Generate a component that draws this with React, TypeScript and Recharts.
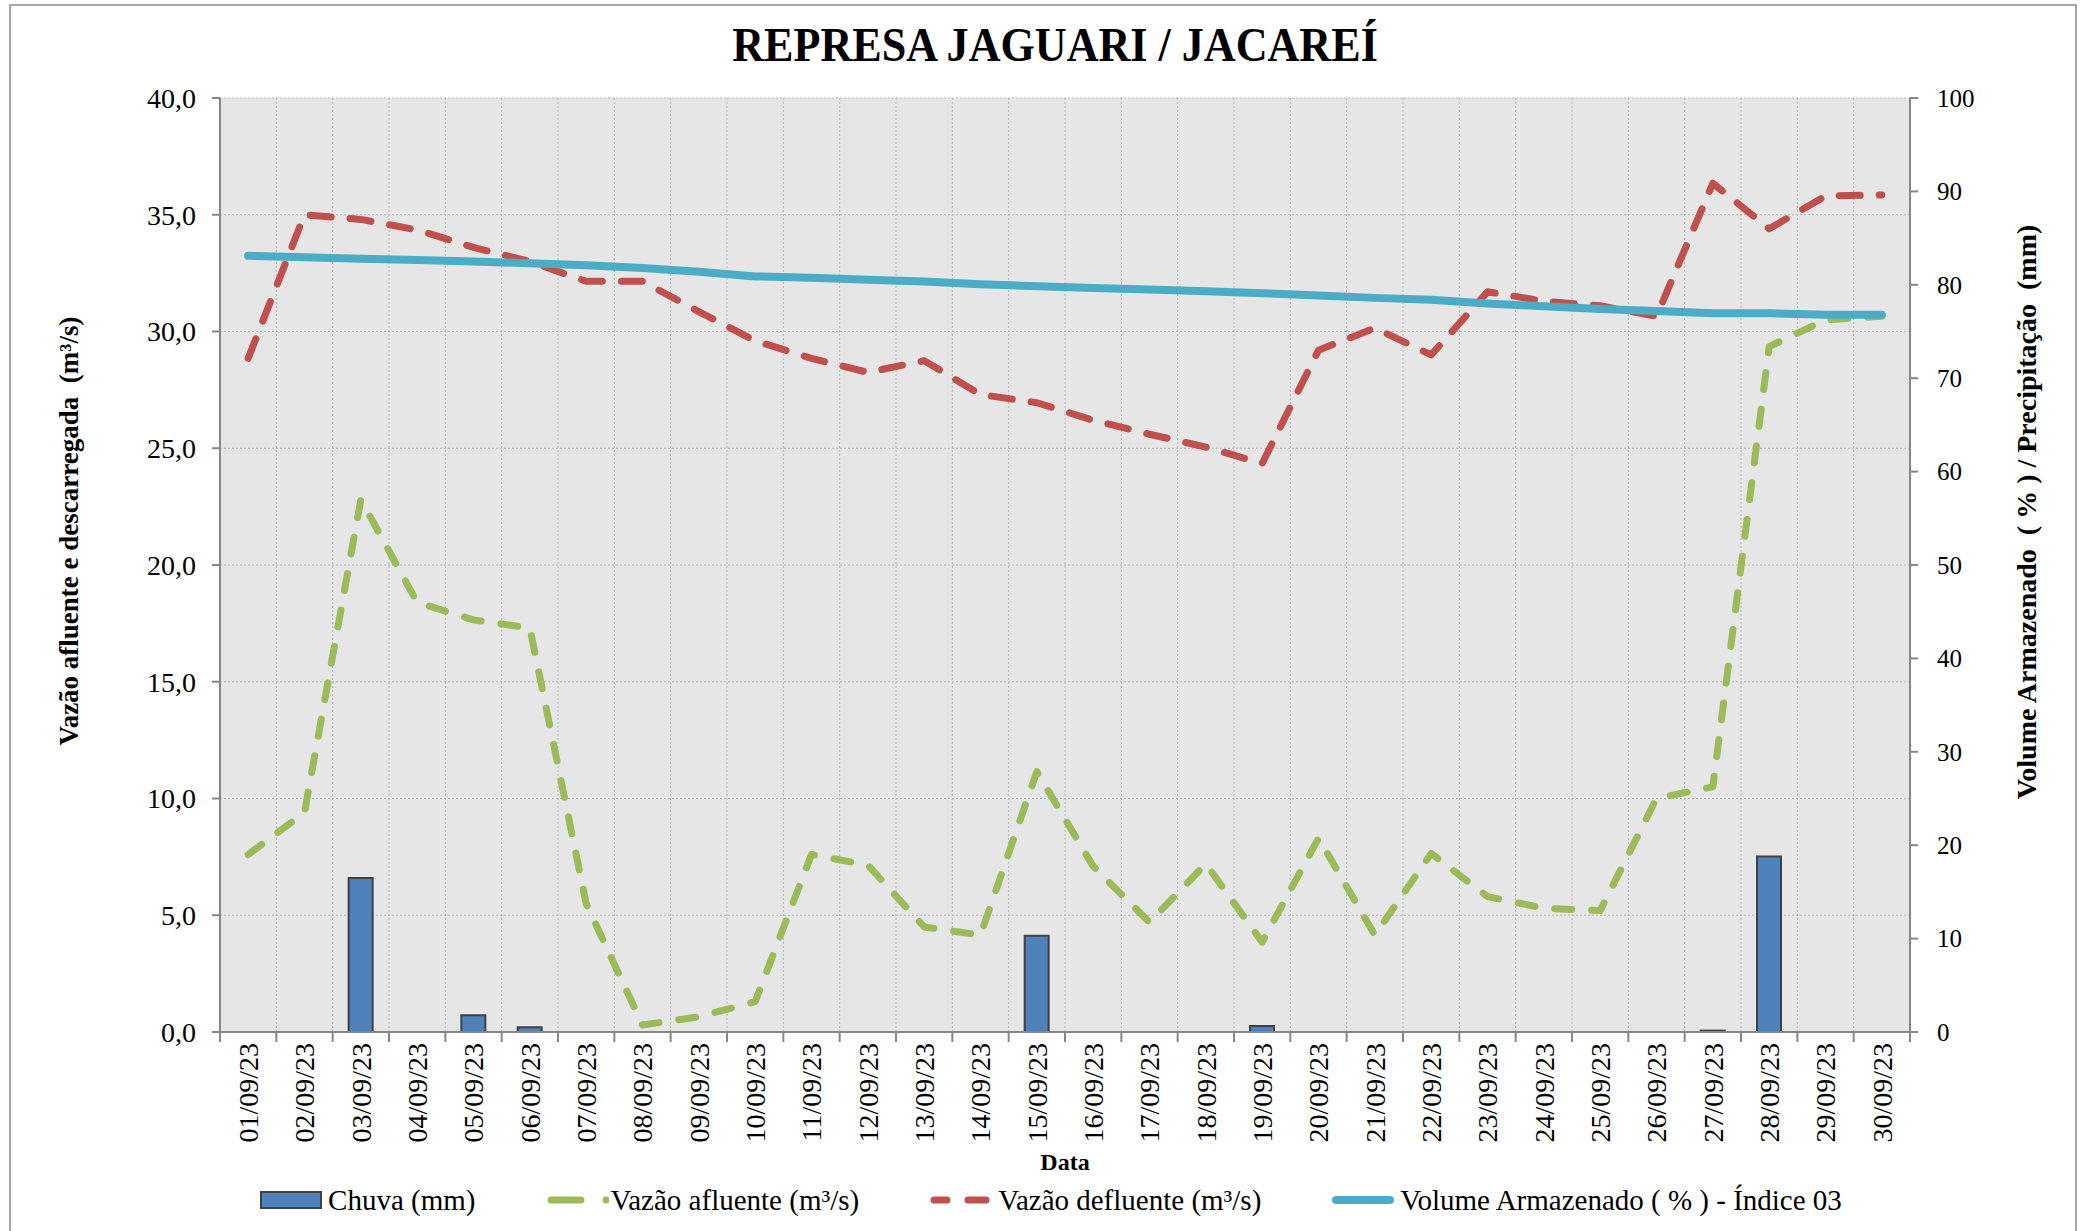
import { Bar, CartesianGrid, ComposedChart, Legend, Line, XAxis, YAxis } from "recharts";

const SERIF = '"Liberation Serif", "Times New Roman", serif';

const dates = [
  "01/09/23", "02/09/23", "03/09/23", "04/09/23", "05/09/23", "06/09/23",
  "07/09/23", "08/09/23", "09/09/23", "10/09/23", "11/09/23", "12/09/23",
  "13/09/23", "14/09/23", "15/09/23", "16/09/23", "17/09/23", "18/09/23",
  "19/09/23", "20/09/23", "21/09/23", "22/09/23", "23/09/23", "24/09/23",
  "25/09/23", "26/09/23", "27/09/23", "28/09/23", "29/09/23", "30/09/23"
];

// mm, eixo direito
const chuva = [
  0, 0, 16.5, 0, 1.8, 0.5, 0, 0, 0, 0, 0, 0, 0, 0, 10.3,
  0, 0, 0, 0.65, 0, 0, 0, 0, 0, 0, 0, 0.15, 18.8, 0, 0
];

// m³/s, eixo esquerdo
const vazaoAfluente = [
  7.6, 9.4, 22.8, 18.4, 17.65, 17.3, 5.5, 0.3, 0.65, 1.3, 7.6, 7.15, 4.5, 4.15, 11.15,
  7.1, 4.7, 7.2, 3.85, 8.3, 4.15, 7.65, 5.8, 5.3, 5.2, 10.0, 10.5, 29.35, 30.5, 30.65
];

const vazaoDefluente = [
  28.85, 35.0, 34.8, 34.35, 33.6, 33.0, 32.15, 32.15, 30.85, 29.6, 28.85, 28.25, 28.75, 27.3, 26.95,
  26.2, 25.6, 25.05, 24.35, 29.2, 30.15, 29.0, 31.7, 31.3, 31.1, 30.65, 36.35, 34.4, 35.8, 35.85
];

// %, eixo direito
const volume = [
  83.1, 82.95, 82.8, 82.65, 82.5, 82.3, 82.1, 81.8, 81.4, 80.9, 80.75, 80.55, 80.35, 80.05, 79.85,
  79.65, 79.5, 79.3, 79.1, 78.85, 78.6, 78.4, 78.0, 77.7, 77.4, 77.2, 76.95, 76.95, 76.8, 76.8
];

const leftTicks = [0, 5, 10, 15, 20, 25, 30, 35, 40];
const rightTicks = [0, 10, 20, 30, 40, 50, 60, 70, 80, 90, 100];

const data = dates.map((d, i) => ({
  data: d,
  chuva: chuva[i],
  afluente: vazaoAfluente[i],
  defluente: vazaoDefluente[i],
  volume: volume[i]
}));

const AXIS = "#878787";

function DateTick(props: any) {
  const { x, y, payload, index } = props;
  const off = payload?.offset ?? 0;
  const last = index === dates.length - 1;
  return (
    <g>
      <line x1={x - off} y1={y - 10} x2={x - off} y2={y} stroke={AXIS} strokeWidth={2} />
      {last && <line x1={x + off} y1={y - 10} x2={x + off} y2={y} stroke={AXIS} strokeWidth={2} />}
      <text
        x={x}
        y={y + 1}
        transform={`rotate(-90, ${x}, ${y + 1})`}
        textAnchor="end"
        dy="0.35em"
        fontFamily={SERIF}
        fontSize={28}
        fill="#000"
      >
        {payload.value}
      </text>
    </g>
  );
}

function Swatch({ k }: { k: string }) {
  return (
    <svg width={62} height={20}>
      {k === "chuva" && <rect x={1} y={2} width={60} height={16} fill="#4f81bd" stroke="#404040" strokeWidth={2} />}
      {k === "afluente" && (
        <g>
          <line x1={4} y1={10} x2={34} y2={10} stroke="#9bbb59" strokeWidth={7} strokeLinecap="round" />
          <circle cx={59} cy={10} r={3.5} fill="#9bbb59" />
        </g>
      )}
      {k === "defluente" && (
        <g>
          <line x1={4} y1={10} x2={17} y2={10} stroke="#c0504d" strokeWidth={7} strokeLinecap="round" />
          <line x1={38} y1={10} x2={56} y2={10} stroke="#c0504d" strokeWidth={7} strokeLinecap="round" />
        </g>
      )}
      {k === "volume" && <line x1={4} y1={10} x2={58} y2={10} stroke="#4bacc6" strokeWidth={8} strokeLinecap="round" />}
    </svg>
  );
}

function LegendContent({ payload }: any) {
  return (
    <div
      style={{
        display: "flex",
        justifyContent: "center",
        alignItems: "center",
        gap: 71,
        height: 62,
        paddingLeft: 22,
        fontFamily: SERIF,
        fontSize: 29,
        color: "#000"
      }}
    >
      {(payload || []).map((item: any) => (
        <div key={item.dataKey} style={{ display: "flex", alignItems: "center", gap: item.dataKey === "afluente" ? 2 : 6 }}>
          <Swatch k={item.dataKey} />
          <span style={{ whiteSpace: "nowrap" }}>{item.value}</span>
        </div>
      ))}
    </div>
  );
}

export default function App() {
  return (
    <div style={{ position: "absolute", left: 0, top: 0, width: 2080, height: 1231, background: "#fff", overflow: "hidden" }}>
      <div
        style={{
          position: "absolute",
          left: 9,
          top: 4,
          width: 2064,
          height: 1300,
          border: "2px solid #a6a6a6"
        }}
      />
      <svg width={2080} height={90} style={{ position: "absolute", left: 0, top: 0 }}>
        <text
          x={1055}
          y={61}
          textAnchor="middle"
          fontFamily={SERIF}
          fontWeight="bold"
          fontSize={49}
          transform="translate(1055 0) scale(0.9 1) translate(-1055 0)"
        >
          REPRESA JAGUARI / JACAREÍ
        </text>
      </svg>
      <div style={{ position: "absolute", left: 0, top: 0 }}>
        <ComposedChart width={2080} height={1231} data={data} margin={{ top: 98, right: 0, bottom: 0, left: 0 }}>
          <CartesianGrid
            xAxisId="cat"
            yAxisId="left"
            fill="#e6e6e6"
            stroke="#b4b4b4"
            strokeDasharray="2 2"
            verticalCoordinatesGenerator={({ offset }: any) =>
              Array.from({ length: dates.length + 1 }, (_, k) => offset.left + (k * offset.width) / dates.length)
            }
          />
          <XAxis
            xAxisId="cat"
            dataKey="data"
            interval={0}
            height={137}
            tickLine={false}
            tickSize={10}
            tickMargin={0}
            axisLine={{ stroke: AXIS, strokeWidth: 2 }}
            tick={<DateTick />}
            label={{
              content: ({ viewBox }: any) => (
                <text
                  x={viewBox.x + viewBox.width / 2}
                  y={1162}
                  textAnchor="middle"
                  dominantBaseline="central"
                  fontFamily={SERIF}
                  fontWeight="bold"
                  fontSize={24}
                >
                  Data
                </text>
              )
            }}
          />
          <YAxis
            yAxisId="left"
            width={220}
            domain={[0, 40]}
            ticks={leftTicks}
            interval={0}
            tickSize={8}
            tickMargin={16}
            tickFormatter={(v: number) => v.toFixed(1).replace(".", ",")}
            tick={{ fill: "#000", fontSize: 28, fontFamily: SERIF }}
            axisLine={{ stroke: AXIS, strokeWidth: 2 }}
            tickLine={{ stroke: AXIS, strokeWidth: 2 }}
            label={{
              content: () => (
                <text
                  x={69}
                  y={531}
                  transform="rotate(-90, 69, 531)"
                  textAnchor="middle"
                  dominantBaseline="central"
                  fontFamily={SERIF}
                  fontWeight="bold"
                  fontSize={27}
                  style={{ whiteSpace: "pre" }}
                >
                  {"Vazão afluente e descarregada  (m³/s)"}
                </text>
              )
            }}
          />
          <YAxis
            yAxisId="right"
            orientation="right"
            width={170}
            domain={[0, 100]}
            ticks={rightTicks}
            interval={0}
            tickSize={8}
            tickMargin={19}
            tick={{ fill: "#000", fontSize: 25, fontFamily: SERIF }}
            axisLine={{ stroke: AXIS, strokeWidth: 2 }}
            tickLine={{ stroke: AXIS, strokeWidth: 2 }}
            label={{
              content: () => (
                <text
                  x={2026}
                  y={512}
                  transform="rotate(-90, 2026, 512)"
                  textAnchor="middle"
                  dominantBaseline="central"
                  fontFamily={SERIF}
                  fontWeight="bold"
                  fontSize={28}
                  style={{ whiteSpace: "pre" }}
                >
                  {"Volume Armazenado  ( % ) / Precipitação  (mm)"}
                </text>
              )
            }}
          />
          <Legend verticalAlign="bottom" height={62} content={<LegendContent />} />
          <Bar
            xAxisId="cat"
            yAxisId="right"
            dataKey="chuva"
            name="Chuva (mm)"
            barSize={24}
            fill="#4f81bd"
            stroke="#404040"
            strokeWidth={2}
            isAnimationActive={false}
          />
          <Line
            xAxisId="cat"
            yAxisId="left"
            type="linear"
            dataKey="afluente"
            name="Vazão afluente (m³/s)"
            stroke="#9bbb59"
            strokeWidth={7}
            strokeDasharray="17 20"
            strokeLinecap="round"
            strokeLinejoin="round"
            dot={false}
            activeDot={false}
            isAnimationActive={false}
          />
          <Line
            xAxisId="cat"
            yAxisId="left"
            type="linear"
            dataKey="defluente"
            name="Vazão defluente (m³/s)"
            stroke="#c0504d"
            strokeWidth={7}
            strokeDasharray="21 19"
            strokeLinecap="round"
            strokeLinejoin="round"
            dot={false}
            activeDot={false}
            isAnimationActive={false}
          />
          <Line
            xAxisId="cat"
            yAxisId="right"
            type="linear"
            dataKey="volume"
            name="Volume Armazenado ( % ) - Índice 03"
            stroke="#4bacc6"
            strokeWidth={8}
            strokeLinecap="round"
            strokeLinejoin="round"
            dot={false}
            activeDot={false}
            isAnimationActive={false}
          />
        </ComposedChart>
      </div>
    </div>
  );
}
